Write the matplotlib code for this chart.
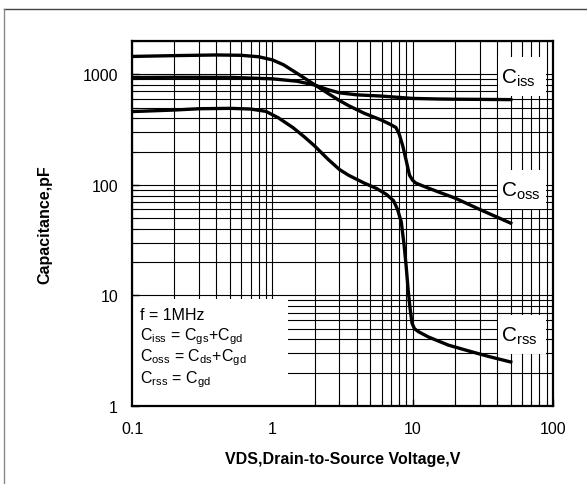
import matplotlib.pyplot as plt
from matplotlib.lines import Line2D
from matplotlib.patches import Rectangle

plt.rcParams['font.family'] = ['Liberation Sans', 'DejaVu Sans']
plt.rcParams['mathtext.fontset'] = 'custom'
plt.rcParams['mathtext.rm'] = 'Liberation Sans'
plt.rcParams['mathtext.it'] = 'Liberation Sans'

# values (VDS in V, capacitance in pF)
vds_iss = [0.1, 0.2, 0.5, 1.0, 1.5, 2.0, 2.5, 3.0, 4.0, 6.0, 10, 15, 20, 30, 50]
c_iss = [935, 940, 938, 910, 865, 800, 725, 680, 652, 635, 605, 598, 595, 593, 590]

vds_oss = [0.1, 0.2, 0.4, 0.6, 0.8, 1.0, 1.2, 1.5, 2.0, 2.5, 3.0, 3.5, 4.5, 6.0,
           7.0, 7.6, 8.0, 8.5, 9.0, 9.5, 10.0, 10.5, 12, 15, 20, 30, 50]
c_oss = [1450, 1475, 1495, 1485, 1440, 1350, 1220, 1020, 805, 670, 580, 520, 445, 385,
         350, 330, 290, 225, 165, 122, 110, 104, 97, 87, 76, 60, 45]

vds_rss = [0.1, 0.2, 0.3, 0.5, 0.7, 0.9, 1.1, 1.4, 1.7, 2.0, 2.5, 3.0, 3.5, 4.5, 5.5,
           6.5, 7.3, 7.8, 8.3, 8.7, 9.0, 9.3, 9.6, 9.9, 10.3, 11, 13, 18, 25, 35, 50]
c_rss = [460, 475, 488, 492, 485, 462, 405, 330, 270, 225, 170, 138, 122, 104, 93,
         82, 72, 60, 46, 28, 18, 11, 7.5, 5.6, 5.0, 4.7, 4.2, 3.55, 3.15, 2.8, 2.5]

xticks = [0.1, 1, 10, 100]
xtick_labels = ['0.1', '1', '10', '100']
yticks = [1, 10, 100, 1000]
ytick_labels = ['1', '10', '100', '1000']

fig = plt.figure(figsize=(5.87, 4.85), dpi=100)
ax = fig.add_axes([132 / 587, 1 - 407 / 485, 421 / 587, 365 / 485])

ax.set_xscale('log')
ax.set_yscale('log')
ax.set_xlim(0.1, 100)
ax.set_ylim(1, 2000)

ax.grid(True, which='both', color='black', lw=0.8, zorder=0)
ax.set_axisbelow(True)

lw = 2.4
ax.plot(vds_iss, c_iss, color='black', lw=lw, solid_joinstyle='round', zorder=4)
ax.plot(vds_oss, c_oss, color='black', lw=lw, solid_joinstyle='round', zorder=4)
ax.plot(vds_rss, c_rss, color='black', lw=lw, solid_joinstyle='round', zorder=4)

# white box for the conditions text
ax.add_patch(Rectangle((0, 0), 0.371, 0.293, transform=ax.transAxes,
                       facecolor='white', edgecolor='none', zorder=2))
cond = ['f = 1MHz',
        r'C$_{\mathregular{iss}}$ = C$_{\mathregular{gs}}$+C$_{\mathregular{gd}}$',
        r'C$_{\mathregular{oss}}$ = C$_{\mathregular{ds}}$+C$_{\mathregular{gd}}$',
        r'C$_{\mathregular{rss}}$ = C$_{\mathregular{gd}}$']
for i, s in enumerate(cond):
    ax.text(0.019, 0.252 - i * 0.059, s, transform=ax.transAxes, fontsize=11.5,
            va='center', ha='left', zorder=5)

# curve name boxes on the right
names = [r'$\mathregular{C_{iss}}$', r'$\mathregular{C_{oss}}$', r'$\mathregular{C_{rss}}$']
box_bottoms = [0.849, 0.540, 0.142]
for s, b in zip(names, box_bottoms):
    ax.add_patch(Rectangle((0.869, b), 0.114, 0.107, transform=ax.transAxes,
                           facecolor='white', edgecolor='none', zorder=2))
    ax.text(0.877, b + 0.052, s, transform=ax.transAxes, fontsize=15,
            va='center', ha='left', zorder=5)

ax.set_xticks(xticks)
ax.set_xticklabels(xtick_labels)
ax.set_yticks(yticks)
ax.set_yticklabels(ytick_labels)
ax.tick_params(which='both', direction='in', labelsize=11.5, color='black')
ax.tick_params(which='major', length=5, width=1)
ax.tick_params(which='minor', length=4, width=0.8)
ax.tick_params(axis='x', pad=11)
ax.tick_params(axis='y', pad=10)
for sp in ax.spines.values():
    sp.set_linewidth(1.6)
    sp.set_zorder(6)

ax.set_xlabel('VDS,Drain-to-Source Voltage,V', fontsize=11.5, fontweight='bold')
ax.set_ylabel('Capacitance,pF', fontsize=11.5, fontweight='bold')
ax.xaxis.set_label_coords(0.5, -0.123)
ax.yaxis.set_label_coords(-0.19, 0.5)

# thin frame around the figure (top and left edges)
fig.add_artist(Line2D([4 / 587, 1], [1 - 9.5 / 485] * 2, color='#444444', lw=1))
fig.add_artist(Line2D([4 / 587] * 2, [0, 1 - 9.5 / 485], color='#888888', lw=1))

fig.savefig('out.png', dpi=100)
